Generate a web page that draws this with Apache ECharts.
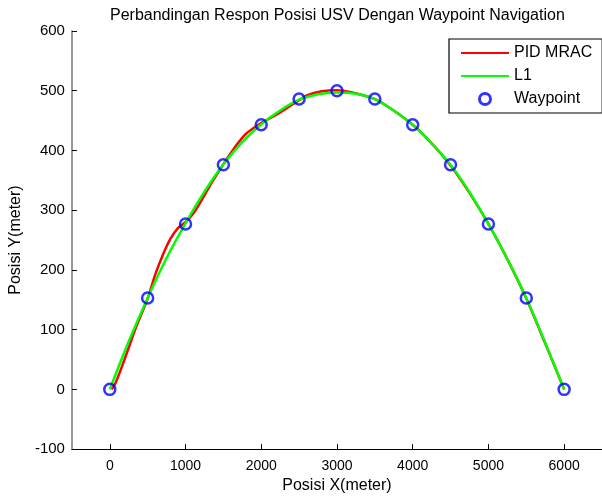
<!DOCTYPE html>
<html>
<head>
<meta charset="utf-8">
<script src="https://cdn.jsdelivr.net/npm/echarts@6/dist/echarts.min.js"></script>
<style>html,body{margin:0;padding:0;background:#fff}#c{width:602px;height:499px}</style>
</head>
<body>
<div id="c"></div>
<script>
var xTicks = [0, 1000, 2000, 3000, 4000, 5000, 6000];

var waypointX = [0, 500, 1000, 1500, 2000, 2500, 3000, 3500, 4000, 4500, 5000, 5500, 6000];
var waypointY = [0, 153, 277, 376, 443, 486, 500, 486, 443, 376, 277, 153, 0];

var l1X = [0, 250, 500, 750, 1000, 1250, 1500, 1750, 2000, 2250, 2500, 2750, 3000, 3250, 3500, 3750, 4000, 4250, 4500, 4750, 5000, 5250, 5500, 5750, 6000];
var l1Y = [0, 80, 153, 220, 278, 331, 377, 414, 444, 467, 485, 494, 497, 495, 486, 467, 443, 412, 376, 330, 277, 218, 153, 78, 0];

var pidX = [25, 80, 200, 350, 500, 600, 700, 800, 900, 1000, 1100, 1200, 1350, 1500, 1650, 1800, 2000, 2200, 2400, 2500, 2600, 2800, 3000, 3200, 3500, 3700, 4000, 4250, 4500, 4750, 5000, 5250, 5500, 5750, 6000];
var pidY = [0, 12, 52, 105, 152, 192, 225, 252, 270, 280, 294, 314, 347, 377, 405, 428, 446, 460, 476, 484, 492, 499, 501, 497, 486, 471, 443, 412, 375, 329, 277, 218, 152, 77, 0];

function pairs(xs, ys) { return xs.map(function (x, i) { return [x, ys[i]]; }); }

var FONT = 'Liberation Sans, Arial, sans-serif';
var chart = echarts.init(document.getElementById('c'), null, { renderer: 'canvas' });
chart.setOption({
  animation: false,
  backgroundColor: '#fff',
  title: {
    text: 'Perbandingan Respon Posisi USV Dengan Waypoint Navigation',
    left: 105, top: 3,
    textStyle: { fontFamily: FONT, fontSize: 16, fontWeight: 'normal', color: '#000' }
  },
  legend: {
    left: 449, top: 39,
    orient: 'vertical',
    padding: [6, 10, 6, 11],
    itemWidth: 48, itemHeight: 11, itemGap: 7,
    borderColor: '#000', borderWidth: 1.2,
    backgroundColor: '#fff',
    textStyle: { fontFamily: FONT, fontSize: 16, color: '#000' },
    data: [
      { name: 'PID MRAC', itemStyle: { opacity: 0 } },
      { name: 'L1', itemStyle: { opacity: 0 } },
      { name: 'Waypoint', itemStyle: { borderWidth: 3 } }
    ]
  },
  grid: { left: 70, right: -6, top: 31, bottom: 46, containLabel: false },
  xAxis: {
    type: 'value', min: -500, max: 6500,
    name: 'Posisi X(meter)', nameLocation: 'middle', nameGap: 26,
    nameTextStyle: { fontFamily: FONT, fontSize: 16, color: '#000' },
    axisLine: { show: true, onZero: false, lineStyle: { color: '#000', width: 1 } },
    axisTick: { show: true, inside: true, length: 5, customValues: xTicks, lineStyle: { color: '#000' } },
    axisLabel: { customValues: xTicks, margin: 10, fontFamily: FONT, fontSize: 14, color: '#000',
      formatter: function (v) { return String(v); } },
    splitLine: { show: false }
  },
  yAxis: {
    type: 'value', min: -100, max: 600, interval: 100,
    name: 'Posisi Y(meter)', nameLocation: 'middle', nameGap: 44,
    nameTextStyle: { fontFamily: FONT, fontSize: 16, color: '#000' },
    axisLine: { show: true, onZero: false, lineStyle: { color: '#777', width: 1.5 } },
    axisTick: { show: true, inside: true, length: 5, lineStyle: { color: '#000' } },
    axisLabel: { margin: 7, fontFamily: FONT, fontSize: 15, color: '#000',
      formatter: function (v) { return String(v); } },
    splitLine: { show: false }
  },
  series: [
    {
      name: 'PID MRAC', type: 'line', data: pairs(pidX, pidY),
      symbol: 'none', smooth: 0.3,
      lineStyle: { color: '#ff0000', width: 2.5 }, itemStyle: { color: '#ff0000' }, z: 2
    },
    {
      name: 'L1', type: 'line', data: pairs(l1X, l1Y),
      symbol: 'none', smooth: 0.3,
      lineStyle: { color: '#00ff00', width: 2.5 }, itemStyle: { color: '#00ff00' }, z: 3
    },
    {
      name: 'Waypoint', type: 'scatter', data: pairs(waypointX, waypointY),
      symbol: 'circle', symbolSize: 11,
      itemStyle: { color: 'rgba(255,255,255,0)', borderColor: '#0000ff', borderWidth: 2.5 }, z: 4
    }
  ]
});
</script>
</body>
</html>
